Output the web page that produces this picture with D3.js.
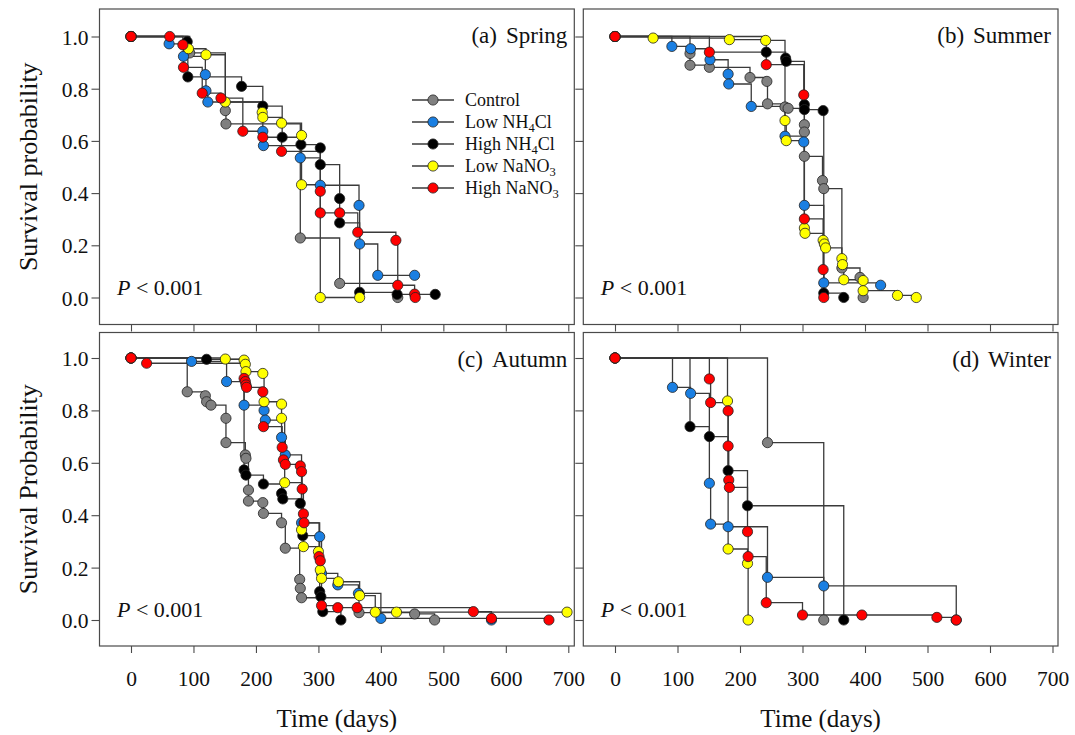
<!DOCTYPE html>
<html>
<head>
<meta charset="utf-8">
<script src="https://cdn.jsdelivr.net/npm/d3@7"></script>
<style>
  body { margin: 0; background: #fff; }
  svg { display: block; font-family: "Liberation Serif", "Times New Roman", serif; }
</style>
</head>
<body>
<svg id="chart" width="1075" height="735"></svg>
<script>
// ---- axis ticks ----
const dayTicks = [0, 100, 200, 300, 400, 500, 600, 700];
const probTicks = [0, 0.2, 0.4, 0.6, 0.8, 1.0];

// ---- treatments (legend order = drawing order) ----
const treatments = ["Control", "Low NH4Cl", "High NH4Cl", "Low NaNO3", "High NaNO3"];
const legendParts = [["Control"], ["Low NH", "4", "Cl"], ["High NH", "4", "Cl"], ["Low NaNO", "3"], ["High NaNO", "3"]];
const treatmentColors = ["#808080", "#1a7fe2", "#000000", "#ffff00", "#ff0000"];

// ---- panels ----
const panelLetters = ["(a)", "(b)", "(c)", "(d)"];
const seasons = ["Spring", "Summer", "Autumn", "Winter"];
const pValues = ["< 0.001", "< 0.001", "< 0.001", "< 0.001"];
const yTitles = ["Survival probability", "Survival Probability"];
const xTitle = "Time (days)";

// ---- Kaplan-Meier estimates: [time (days), survival probability] ----
const springControl = [[0,1],[94,0.937],[151,0.716],[152,0.665],[271,0.228],[334,0.054],[427,0]];
const springLowNH4 = [[0,1],[61,0.972],[84,0.924],[119,0.854],[120,0.792],[123,0.749],[211,0.637],[212,0.582],[271,0.535],[303,0.43],[365,0.353],[366,0.205],[395,0.085],[454,0.085]];
const springHighNH4 = [[0,1],[90,0.98],[91,0.845],[177,0.809],[211,0.733],[242,0.614],[272,0.586],[303,0.573],[303,0.509],[334,0.379],[334,0.286],[366,0.02],[426,0.012],[487,0.012]];
const springLowNO3 = [[0,1],[92,0.953],[120,0.93],[151,0.749],[210,0.709],[211,0.69],[241,0.668],[273,0.621],[273,0.432],[303,0],[366,0]];
const springHighNO3 = [[0,1],[62,1],[83,0.968],[84,0.882],[114,0.783],[144,0.764],[179,0.637],[211,0.614],[241,0.56],[303,0.407],[303,0.324],[334,0.324],[363,0.25],[424,0.219],[427,0.047],[454,0.013],[455,0]];

const summerControl = [[0,1],[120,0.935],[120,0.89],[151,0.882],[216,0.843],[243,0.828],[244,0.742],[272,0.73],[277,0.725],[303,0.662],[303,0.634],[303,0.541],[332,0.448],[334,0.417],[363,0.113],[392,0.077],[397,0]];
const summerLowNH4 = [[0,1],[91,0.962],[121,0.953],[152,0.911],[181,0.856],[182,0.818],[218,0.732],[272,0.618],[302,0.596],[303,0.353],[334,0.056],[425,0.047]];
const summerHighNH4 = [[0,1],[242,0.94],[273,0.917],[274,0.905],[303,0.739],[303,0.72],[333,0.716],[334,0.017],[366,0]];
const summerLowNO3 = [[0,1],[61,0.994],[183,0.988],[241,0.985],[272,0.678],[274,0.601],[303,0.266],[304,0.246],[333,0.219],[335,0.205],[337,0.19],[363,0.149],[364,0.126],[366,0.068],[397,0.065],[397,0.026],[452,0.008],[482,0]];
const summerHighNO3 = [[0,1],[151,0.94],[242,0.892],[302,0.776],[303,0.301],[333,0.107],[334,0]];

const autumnControl = [[0,1],[90,0.871],[119,0.856],[121,0.833],[128,0.82],[152,0.77],[152,0.677],[183,0.63],[184,0.617],[188,0.496],[188,0.454],[211,0.448],[212,0.407],[241,0.371],[247,0.274],[270,0.155],[271,0.121],[273,0.085],[365,0.028],[454,0.023],[486,0]];
const autumnLowNH4 = [[0,1],[97,0.987],[153,0.91],[181,0.82],[213,0.8],[215,0.763],[241,0.697],[247,0.63],[273,0.371],[302,0.318],[305,0.178],[331,0.134],[364,0.102],[400,0.006],[577,0]];
const autumnHighNH4 = [[0,1],[121,0.995],[181,0.573],[184,0.553],[212,0.519],[241,0.483],[243,0.462],[271,0.445],[275,0.322],[302,0.108],[304,0.089],[307,0.032],[336,0]];
const autumnLowNO3 = [[0,1],[151,0.996],[181,0.992],[183,0.976],[184,0.948],[211,0.941],[213,0.833],[241,0.824],[241,0.77],[246,0.524],[273,0.344],[276,0.28],[300,0.261],[303,0.191],[305,0.159],[332,0.146],[366,0.093],[391,0.03],[425,0.03],[698,0.03]];
const autumnHighNO3 = [[0,1],[25,0.98],[181,0.922],[183,0.91],[184,0.897],[185,0.888],[211,0.871],[212,0.738],[242,0.659],[244,0.611],[247,0.594],[271,0.588],[273,0.566],[274,0.5],[276,0.405],[277,0.371],[301,0.242],[303,0.226],[305,0.055],[331,0.047],[362,0.047],[548,0.032],[577,0.006],[669,0]];

const winterControl = [[0,1],[244,0.677],[334,0]];
const winterLowNH4 = [[0,1],[92,0.888],[121,0.865],[151,0.522],[153,0.366],[181,0.356],[244,0.163],[334,0.13],[546,0]];
const winterHighNH4 = [[0,1],[120,0.738],[151,0.7],[181,0.57],[212,0.436],[366,0]];
const winterLowNO3 = [[0,1],[180,0.836],[181,0.271],[212,0.216],[213,0]];
const winterHighNO3 = [[0,1],[151,0.92],[153,0.83],[181,0.798],[181,0.664],[182,0.534],[183,0.506],[212,0.337],[213,0.242],[242,0.066],[300,0.019],[395,0.019],[515,0.01],[546,0]];

const panelSeries = [
  [springControl, springLowNH4, springHighNH4, springLowNO3, springHighNO3],
  [summerControl, summerLowNH4, summerHighNH4, summerLowNO3, summerHighNO3],
  [autumnControl, autumnLowNH4, autumnHighNH4, autumnLowNO3, autumnHighNO3],
  [winterControl, winterLowNH4, winterHighNH4, winterLowNO3, winterHighNO3]
];

// ---- layout ----
const cols = [
  { left: 99.5, right: 574.3, x0: 131, x700: 568.3 },
  { left: 583.3, right: 1058, x0: 615, x700: 1052.5 }
];
const rows = [
  { top: 9, bottom: 324.5, y1: 36.5, y0: 297.5 },
  { top: 332.5, bottom: 646, y1: 358, y0: 620 }
];
const frameColor = "#4a4a4a";
const stepColor = "#3a3a3a";
const markerR = 5.1;

const svg = d3.select("#chart");

panelSeries.forEach((seriesList, i) => {
  const c = cols[i % 2];
  const r = rows[Math.floor(i / 2)];
  const x = d3.scaleLinear().domain([0, 700]).range([c.x0, c.x700]);
  const y = d3.scaleLinear().domain([0, 1]).range([r.y0, r.y1]);
  const g = svg.append("g").attr("class", "panel");

  // frame
  g.append("rect")
    .attr("x", c.left).attr("y", r.top)
    .attr("width", c.right - c.left).attr("height", r.bottom - r.top)
    .attr("fill", "none").attr("stroke", frameColor).attr("stroke-width", 1.2);

  // x axis (labels on the bottom row only)
  const xa = g.append("g")
    .attr("transform", `translate(0,${r.bottom})`)
    .call(d3.axisBottom(x).tickValues(dayTicks).tickSize(7).tickSizeOuter(0));
  xa.select(".domain").remove();
  xa.selectAll(".tick line").attr("stroke", frameColor).attr("stroke-width", 1.1);
  if (i >= 2) {
    xa.selectAll(".tick text")
      .attr("y", 40).attr("dy", null)
      .attr("fill", "#111").attr("font-size", 21.5)
      .attr("font-family", "Liberation Serif");
  } else {
    xa.selectAll(".tick text").remove();
  }

  // y axis (labels on the left column only)
  const ya = g.append("g")
    .attr("transform", `translate(${c.left},0)`)
    .call(d3.axisLeft(y).tickValues(probTicks).tickFormat(d3.format(".1f")).tickSize(8).tickSizeOuter(0));
  ya.select(".domain").remove();
  ya.selectAll(".tick line").attr("stroke", frameColor).attr("stroke-width", 1.1);
  if (i % 2 === 0) {
    ya.selectAll(".tick text")
      .attr("x", -11).attr("dy", "0.35em")
      .attr("fill", "#111").attr("font-size", 21.5)
      .attr("font-family", "Liberation Serif");
  } else {
    ya.selectAll(".tick text").remove();
  }

  // step curves
  const step = d3.line().x(d => x(d[0])).y(d => y(d[1])).curve(d3.curveStepAfter);
  seriesList.forEach(s => {
    g.append("path").attr("d", step(s))
      .attr("fill", "none").attr("stroke", stepColor).attr("stroke-width", 1.3);
  });

  // event markers
  seriesList.forEach((s, k) => {
    g.append("g").selectAll("circle").data(s).join("circle")
      .attr("cx", d => x(d[0])).attr("cy", d => y(d[1])).attr("r", markerR)
      .attr("fill", treatmentColors[k]).attr("stroke", "#222").attr("stroke-width", 0.8);
  });

  // panel title
  const t = g.append("text")
    .attr("x", c.right - 7).attr("y", r.top + 34)
    .attr("text-anchor", "end").attr("font-size", 23).attr("fill", "#111");
  t.append("tspan").text(panelLetters[i]);
  t.append("tspan").attr("dx", 9).text(seasons[i]);

  // significance
  const p = g.append("text")
    .attr("x", c.left + 17.5).attr("y", r.bottom - 29.5)
    .attr("font-size", 22).attr("fill", "#111");
  p.append("tspan").attr("font-style", "italic").text("P");
  p.append("tspan").text(" " + pValues[i]);

  // legend in the first panel
  if (i === 0) {
    const lg = g.append("g");
    treatments.forEach((name, k) => {
      const cy = 100 + k * 22;
      lg.append("line").attr("x1", 412).attr("x2", 454).attr("y1", cy).attr("y2", cy)
        .attr("stroke", stepColor).attr("stroke-width", 1.3);
      lg.append("circle").attr("cx", 433).attr("cy", cy).attr("r", markerR)
        .attr("fill", treatmentColors[k]).attr("stroke", "#222").attr("stroke-width", 0.8);
      const lt = lg.append("text").attr("x", 465).attr("y", cy + 6)
        .attr("font-size", 18).attr("fill", "#111");
      legendParts[k].forEach((part, j) => {
        const sub = j % 2 === 1;
        lt.append("tspan")
          .attr("font-size", sub ? 12.5 : 18)
          .attr("dy", sub ? 4 : (j > 0 ? -4 : 0))
          .text(part);
      });
    });
  }
});

// axis titles
[0, 1].forEach(ri => {
  const r = rows[ri];
  svg.append("text")
    .attr("transform", `translate(28,${(r.top + r.bottom) / 2}) rotate(-90)`)
    .attr("text-anchor", "middle").attr("dominant-baseline", "central")
    .attr("font-size", 26).attr("fill", "#111")
    .text(yTitles[ri]);
});
[0, 1].forEach(ci => {
  const c = cols[ci];
  svg.append("text")
    .attr("x", (c.left + c.right) / 2).attr("y", 727)
    .attr("text-anchor", "middle").attr("font-size", 25).attr("fill", "#111")
    .text(xTitle);
});
</script>
</body>
</html>
